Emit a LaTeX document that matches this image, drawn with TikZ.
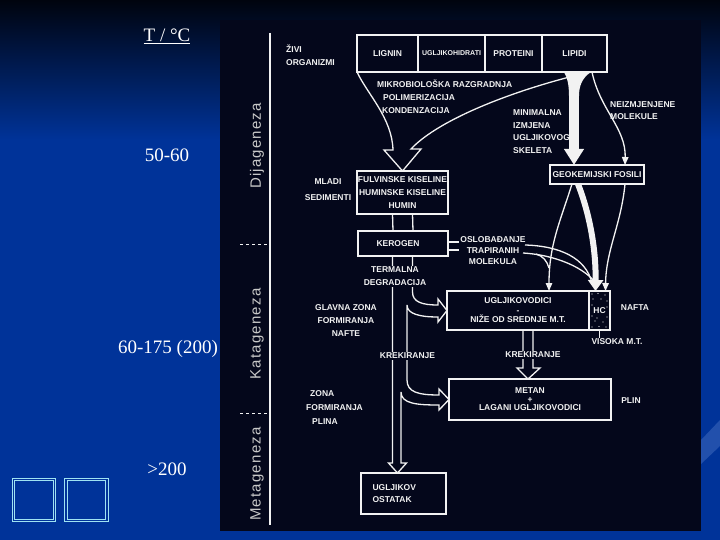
\documentclass[tikz,border=0pt]{standalone}
\usepackage{fontspec}
\setmainfont{Liberation Serif}
\newfontfamily\scanfont{Liberation Sans}
\usepackage{tikz}
\usetikzlibrary{positioning,arrows.meta,calc}
\definecolor{slide}{HTML}{003399}
\definecolor{slidetop}{HTML}{00040E}
\definecolor{scan}{HTML}{04071B}
\definecolor{ink}{HTML}{F2F2F2}
\definecolor{faint}{HTML}{C8C8C8}
\definecolor{frame}{HTML}{9FE3F2}
\definecolor{sheen}{HTML}{2250AC}

\begin{document}
\begin{tikzpicture}[x=1pt, y=-1pt,
    txt/.style={text=ink, inner sep=1pt, align=center,
                font=\scanfont\bfseries\fontsize{8.5}{13}\selectfont},
    box/.style={txt, draw=ink, line width=1.3pt, outer sep=0pt},
    cell/.style={box, minimum height=37pt},
    mask/.style={txt, fill=scan, inner sep=1.5pt},
    era/.style={text=faint, rotate=90,
                font=\scanfont\fontsize{15}{15}\selectfont\addfontfeature{LetterSpace=8}},
    temp/.style={text=white, font=\fontsize{19}{19}\selectfont},
    navbox/.style={draw=frame, double=slide, double distance=1.6pt, line width=0.8pt,
                   minimum width=41pt, minimum height=41pt},
    wire/.style={draw=ink, line width=1.3pt},
    arrow/.style={wire, -{Triangle[width=6.5pt,length=8pt]}},
    fat/.style={draw=ink, line width=6pt, -{Triangle[width=15pt,length=11pt]}}
  ]
    \useasboundingbox (0,0) rectangle (720,540);

    % slide and scanned sheet
    \fill[slide] (0,0) rectangle (720,540);
    \shade[top color=slidetop, bottom color=slide] (0,0) rectangle (720,140);
    \fill[sheen] (701,440) -- (720,420) -- (720,446) -- (701,464) -- cycle;
    \fill[scan] (220,20) rectangle (701,531);

    % temperatures
    \node[temp] (tunit) at (167,36) {\underline{T / °C}};
    \node[temp] (t1) at (167,155) {50-60};
    \node[temp] (t2) at (168,349) {60-175 (200)};
    \node[temp] (t3) at (167,469) {>200};
    \node[navbox] (navl) at (34,500) {};
    \node[navbox] (navr) at (86.5,500) {};

    % stages
    \draw[wire] (270,33) -- (270,525);
    \draw[wire, dashed, line width=0.8pt] (240,244) -- (267,244);
    \draw[wire, dashed, line width=0.8pt] (240,413) -- (267,413);
    \node[era] (dija) at (257,146) {Dijageneza};
    \node[era] (kata) at (257,334) {Katageneza};
    \node[era] (meta) at (257,474) {Metageneza};

    % boxes and labels
    \node[txt, align=left, anchor=west] (zivi) at (285,55) {ŽIVI\\ORGANIZMI};
    \node[cell, minimum width=61pt, anchor=north west] (lignin) at (357,35) {LIGNIN};
    \node[cell, minimum width=67pt, right=0pt of lignin,
          font=\scanfont\bfseries\fontsize{7}{8}\selectfont] (ugh) {UGLJIKOHIDRATI};
    \node[cell, minimum width=57pt, right=0pt of ugh] (prot) {PROTEINI};
    \node[cell, minimum width=65pt, right=0pt of prot] (lipidi) {LIPIDI};
    \node[txt, align=left, anchor=west] (mikro) at (376,97)
      {MIKROBIOLOŠKA RAZGRADNJA\\\hspace*{6pt}POLIMERIZACIJA\\\hspace*{5pt}KONDENZACIJA};
    \node[box, minimum width=89pt, minimum height=43pt] (fulv) at (402.5,192.5)
      {FULVINSKE KISELINE\\HUMINSKE KISELINE\\HUMIN};
    \node[txt] (mladi) at (328,190) {MLADI\\[3pt]SEDIMENTI};
    \node[box, minimum width=90pt, minimum height=25pt] (kerogen) at (403,243.5)
      {KEROGEN\hspace*{10pt}};
    \node[box, minimum width=94pt, minimum height=19pt] (fosili) at (597,174.5) {GEOKEMIJSKI FOSILI};
    \node[txt, align=left, anchor=west, font=\scanfont\bfseries\fontsize{8.5}{12}\selectfont]
      (neizm) at (609,111) {NEIZMJENJENE\\MOLEKULE};
    \node[txt, font=\scanfont\bfseries\fontsize{8.5}{11}\selectfont] (oslob) at (493,251)
      {OSLOBAĐANJE\\TRAPIRANIH\\MOLEKULA};
    \node[box, minimum width=142pt, minimum height=39pt,
          font=\scanfont\bfseries\fontsize{8.5}{9.5}\selectfont] (ugv) at (518,310.5)
      {UGLJIKOVODICI\\-\\NIŽE OD SREDNJE M.T.};
    \node[box, minimum width=21pt, minimum height=39pt, right=0pt of ugv] (hc) {HC};
    \foreach \dx/\dy in {3/3, 9/2.5, 16/4, 4/8, 12/8, 18/10, 3/14, 18/16, 3/25,
                         18/26, 6/30, 14/31, 3/36, 10/35.5, 17/36, 8/27}
      \fill[ink] ($(hc.north west)+(\dx,\dy)$) circle (0.7pt);
    \node[txt] (nafta) at (635,308) {NAFTA};
    \node[txt] (visoka) at (617,342) {VISOKA M.T.};
    \node[txt] (glavna) at (346,321) {GLAVNA ZONA\\FORMIRANJA\\NAFTE};
    \node[txt, align=left, anchor=west, font=\scanfont\bfseries\fontsize{8.5}{14}\selectfont]
      (zona) at (305,408) {\hspace*{4pt}ZONA\\FORMIRANJA\\\hspace*{6pt}PLINA};
    \node[box, minimum width=162pt, minimum height=41pt,
          font=\scanfont\bfseries\fontsize{8.5}{8.5}\selectfont] (metan) at (530,399.5)
      {METAN\\+\\LAGANI UGLJIKOVODICI};
    \node[txt] (plin) at (631,401) {PLIN};
    \node[box, minimum width=85pt, minimum height=41pt, text width=62pt, align=left,
          font=\scanfont\bfseries\fontsize{8.5}{12}\selectfont] (ostatak) at (403.5,493.5)
      {UGLJIKOV\\OSTATAK};

    % from living matter to humic substances
    \draw[wire, line join=miter] (lignin.south west) .. controls (368,95) and (392,118) .. (393,150)
      -- (384,150) -- (fulv.north) -- (421,149) -- (411,149)
      .. controls (440,118) and (520,88) .. ($(lipidi.south west)+(48,0)$);
    \coordinate (mtop) at ($(lipidi.south west)+(32,0)$);
    \fill[ink] ($(mtop)+(-10,0)$) -- ($(mtop)+(17,0)$)
      .. controls ($(mtop)+(8,6)$) and ($(mtop)+(5,14)$) .. ($(mtop)+(5,24)$)
      -- ($(mtop)+(-5,24)$) .. controls ($(mtop)+(-5,12)$) and ($(mtop)+(-7,5)$) .. cycle;
    \draw[ink, line width=10pt, -{Triangle[width=19pt,length=16pt]}] (mtop) -- (fosili.north -| mtop);
    \node[txt, align=left, anchor=west, font=\scanfont\bfseries\fontsize{8.5}{12.5}\selectfont]
      (minimal) at (512,131.5) {MINIMALNA\\IZMJENA\\UGLJIKOVOG\\SKELETA};
    \draw[arrow] ($(lipidi.south west)+(50,0)$) .. controls (600,110) and (626,128)
      .. ($(fosili.north east)+(-19,0)$);

    % fossils to hydrocarbons
    \draw[arrow] ($(fosili.south)+(-25,0)$) .. controls (560,222) and (549,245) .. ($(ugv.north east)+(-40,0)$);
    \draw[fat] ($(fosili.south)+(-19,0)$) .. controls (590,215) and (596,250) .. ($(hc.north)+(-4,0)$);
    \draw[arrow] ($(fosili.south)+(28,0)$) .. controls (621,225) and (606,250) .. ($(hc.north)+(6,0)$);

    % released molecules
    \coordinate (k1) at ($(kerogen.north east)+(0,11)$);
    \coordinate (k2) at ($(kerogen.north east)+(0,19)$);
    \draw[wire] (k1) -- (k1 -| oslob.west);
    \draw[wire] (k2) -- (k2 -| oslob.west);
    \coordinate (o1) at (525,245);
    \coordinate (o2) at (523,253);
    \draw[wire] (o1) .. controls (560,246) and (586,258) .. (592,283);
    \draw[wire] (o2) .. controls (556,255) and (586,268) .. (597,285);
    \draw[wire] (536,254) .. controls (543,256) and (547,261) .. (549,268);

    % kerogen channel
    \coordinate (chl) at ($(kerogen.south)+(-10.5,0)$);
    \coordinate (chr) at ($(kerogen.south)+(9.5,0)$);
    \draw[wire, line join=miter] (chl) -- (392.5,463) -- (388.5,463) -- ($(ostatak.north)+(-6,0)$)
      -- (406.5,463) -- (401,463) -- (401,392)
      .. controls (401,404) and (418,405) .. (439,405) -- (439,410) -- (metan.west)
      -- (439,389) -- (439,395) .. controls (418,395) and (407,392) .. (407,380)
      -- (407,305) .. controls (407,314) and (420,317) .. (438,317) -- (438,322) -- (ugv.west)
      -- (438,299) -- (438,305) .. controls (422,305) and (412.5,302) .. (412.5,292) -- (chr);
    \draw[wire] ($(fulv.south)+(-10,0)$) -- ($(kerogen.north)+(-10,0)$);
    \draw[wire] ($(fulv.south)+(10,0)$) -- ($(kerogen.north)+(10,0)$);

    % cracking to gas
    \draw[wire, line join=miter] ($(ugv.south)+(5,0)$) -- ++(0,38) -- ++(-6,0) -- ($(metan.north)+(-2,0)$)
      -- ($(ugv.south)+(22,38)$) -- ++(-7,0) -- ++(0,-38);
    \draw[wire] (hc.south) -- (hc.south |- visoka.north);

    \node[mask] (termal) at (395,276.5) {TERMALNA\\DEGRADACIJA};
    \node[mask] (krek1) at (407.5,356) {KREKIRANJE};
    \node[mask] (krek2) at (533,355) {KREKIRANJE};
  \end{tikzpicture}
\end{document}
